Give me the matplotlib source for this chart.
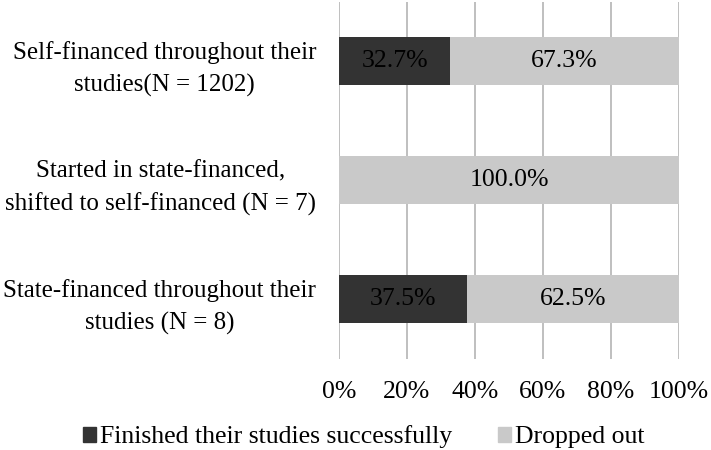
import matplotlib
matplotlib.use("Agg")
import matplotlib.pyplot as plt
from matplotlib.patches import Patch

categories = ["Self-financed throughout their\nstudies(N = 1202)",
              "Started in state-financed,\nshifted to self-financed (N = 7)",
              "State-financed throughout their\nstudies (N = 8)"]
finished = [32.7, 0.0, 37.5]
dropped = [67.3, 100.0, 62.5]
series_names = ["Finished their studies successfully", "Dropped out"]
xticks = [0, 20, 40, 60, 80, 100]

plt.rcParams['font.family'] = ['Liberation Serif', 'DejaVu Serif']

W, H = 711, 450
FS = 18.5
fig = plt.figure(figsize=(W/100, H/100), dpi=100)
ax = fig.add_axes([339/W, 1-358.5/H, (679-339)/W, 357/H])

dark = "#333333"
light = "#c9c9c9"
ypos = [0, 1, 2]
bh = 0.395
ax.barh(ypos, finished, height=bh, color=dark, zorder=3)
ax.barh(ypos, dropped, left=finished, height=bh, color=light, zorder=3)

for y, f, d in zip(ypos, finished, dropped):
    if f > 0:
        ax.text(f/2, y, f"{f:.1f}%", ha="center", va="center", fontsize=FS, color="black", zorder=4)
    if d > 0:
        ax.text(f + d/2, y, f"{d:.1f}%", ha="center", va="center", fontsize=FS, color="black", zorder=4)

ax.set_ylim(2.5, -0.5)
ax.set_xlim(0, 100)
ax.set_yticks(ypos)
ax.set_yticklabels(categories, fontsize=18, linespacing=1.6, multialignment='center')
ax.set_xticks(xticks)
ax.set_xticklabels([f"{t}%" for t in xticks], fontsize=FS)
ax.tick_params(axis='y', length=0, pad=16.5)
ax.tick_params(axis='x', length=0, pad=16)
for s in ax.spines.values():
    s.set_visible(False)
ax.xaxis.grid(True, color="#bfbfbf", linewidth=1.4, zorder=0)
ax.set_axisbelow(True)

handles = [Patch(facecolor=dark, edgecolor=dark), Patch(facecolor=light, edgecolor=light)]
fig.legend(handles, series_names, loc="center", bbox_to_anchor=(364/W, 1-437/H),
           ncol=2, frameon=False, fontsize=FS, handlelength=0.5, handleheight=0.5,
           handletextpad=0.15, columnspacing=1.8, borderpad=0, borderaxespad=0)

fig.savefig("out.png", dpi=100)
